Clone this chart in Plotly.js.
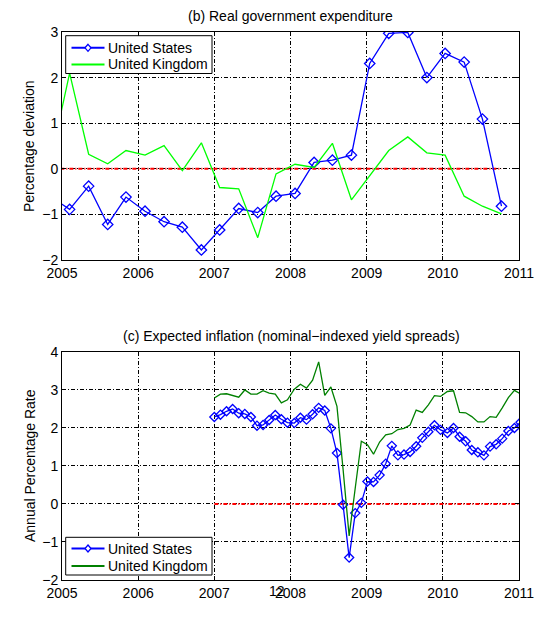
<!DOCTYPE html>
<html>
<head>
<meta charset="utf-8">
<script src="https://cdn.plot.ly/plotly-3.0.1.min.js"></script>
<style>html,body{margin:0;padding:0;background:#fff;}#chart{width:548px;height:619px;}</style>
</head>
<body>
<div id="chart"></div>
<script>
// ---- Panel (b): Real government expenditure (quarterly, decimal years) ----
var govDates = [2004.86, 2005.10, 2005.35, 2005.60, 2005.84, 2006.09, 2006.34, 2006.58, 2006.83,
  2007.07, 2007.32, 2007.57, 2007.81, 2008.06, 2008.31, 2008.55, 2008.80,
  2009.04, 2009.29, 2009.54, 2009.79, 2010.03, 2010.28, 2010.52, 2010.77];
var govUS = [-0.62, -0.89, -0.38, -1.22, -0.62, -0.93, -1.16, -1.28, -1.78,
  -1.34, -0.87, -0.96, -0.60, -0.54, 0.14, 0.19, 0.30,
  2.31, 2.97, 2.99, 2.00, 2.53, 2.34, 1.09, -0.82];
var govUK = [0.25, 2.10, 0.32, 0.11, 0.40, 0.30, 0.51, -0.04, 0.57,
  -0.41, -0.44, -1.51, -0.11, 0.10, 0.03, 0.56, -0.68,
  -0.15, 0.40, 0.70, 0.35, 0.30, -0.60, -0.82, -0.99];
var govZeroX = [2004.86, 2010.77];

// ---- Panel (c): Expected inflation (monthly, decimal years) ----
var inflDates = [2007.00, 2007.08, 2007.16, 2007.24, 2007.32, 2007.40, 2007.48, 2007.56, 2007.64, 2007.72,
  2007.80, 2007.88, 2007.96, 2008.05, 2008.13, 2008.21, 2008.29, 2008.37, 2008.45, 2008.53,
  2008.61, 2008.69, 2008.77, 2008.85, 2008.93, 2009.01, 2009.09, 2009.17, 2009.25, 2009.33,
  2009.41, 2009.49, 2009.57, 2009.65, 2009.73, 2009.81, 2009.89, 2009.97, 2010.06, 2010.14,
  2010.22, 2010.30, 2010.38, 2010.46, 2010.54, 2010.62, 2010.70, 2010.78, 2010.86, 2010.94,
  2011.02];
var inflUS = [2.29, 2.35, 2.44, 2.50, 2.39, 2.37, 2.29, 2.06, 2.08, 2.21,
  2.34, 2.23, 2.14, 2.13, 2.27, 2.22, 2.36, 2.53, 2.46, 1.99,
  1.34, -0.02, -1.41, -0.24, 0.03, 0.59, 0.58, 0.76, 1.06, 1.53,
  1.28, 1.30, 1.37, 1.52, 1.74, 1.90, 2.07, 1.95, 1.87, 2.00,
  1.77, 1.65, 1.42, 1.36, 1.28, 1.51, 1.57, 1.72, 1.92, 2.00,
  2.15];
var inflUK = [2.79, 2.89, 2.90, 2.86, 2.81, 3.00, 2.89, 2.89, 2.98, 2.92,
  2.89, 2.66, 2.74, 3.02, 3.15, 3.05, 3.26, 3.74, 2.86, 3.08,
  2.57, 0.92, -0.84, 0.42, 1.65, 1.56, 1.31, 1.63, 1.82, 1.85,
  1.96, 1.99, 2.08, 2.47, 2.41, 2.61, 2.85, 2.83, 2.96, 2.98,
  2.41, 2.40, 2.30, 2.16, 2.16, 2.30, 2.28, 2.53, 2.80, 2.99,
  2.90];
var inflZeroX = [2007.00, 2011.02];

var seriesNames = ['United States', 'United Kingdom'];
var xTicks = [2005, 2006, 2007, 2008, 2009, 2010, 2011];

var DASHDOT = '4px,2px,1px,2px';
var FONT = 'Liberation Sans, Arial, sans-serif';
var BLUE = '#0000ff', GREEN_B = '#00ff00', GREEN_C = '#008000';

var traces = [
  {x: govZeroX, y: [0, 0], xaxis: 'x', yaxis: 'y', mode: 'lines', showlegend: false,
   line: {color: '#ff0000', width: 2, dash: DASHDOT}, hoverinfo: 'skip'},
  {x: govDates, y: govUS, xaxis: 'x', yaxis: 'y', mode: 'lines+markers', name: seriesNames[0],
   showlegend: false, line: {color: BLUE, width: 1.3},
   marker: {symbol: 'diamond-open', size: 8, color: BLUE, line: {width: 1.3, color: BLUE}}},
  {x: govDates, y: govUK, xaxis: 'x', yaxis: 'y', mode: 'lines', name: seriesNames[1],
   showlegend: false, line: {color: GREEN_B, width: 1.3}},

  {x: inflZeroX, y: [0, 0], xaxis: 'x2', yaxis: 'y2', mode: 'lines', showlegend: false,
   line: {color: '#ff0000', width: 2, dash: DASHDOT}, hoverinfo: 'skip'},
  {x: inflDates, y: inflUS, xaxis: 'x2', yaxis: 'y2', mode: 'lines+markers', name: seriesNames[0],
   showlegend: false, line: {color: BLUE, width: 1.3},
   marker: {symbol: 'diamond-open', size: 7, color: BLUE, line: {width: 1.3, color: BLUE}}},
  {x: inflDates, y: inflUK, xaxis: 'x2', yaxis: 'y2', mode: 'lines', name: seriesNames[1],
   showlegend: false, line: {color: GREEN_C, width: 1.3}}
];

function xAxis(anchor) {
  return {
    anchor: anchor, domain: [0, 1], range: [2005, 2011], tickvals: xTicks,
    ticktext: xTicks.map(String),
    showgrid: true, gridcolor: '#000', gridwidth: 1, griddash: DASHDOT,
    showline: true, linecolor: '#000', linewidth: 1, mirror: 'allticks',
    ticks: 'inside', ticklen: 4, tickcolor: '#000', zeroline: false,
    tickfont: {family: FONT, size: 14, color: '#000'}
  };
}
function yAxis(anchor, domain, range) {
  var vals = [];
  for (var v = range[0]; v <= range[1]; v++) vals.push(v);
  return {
    anchor: anchor, domain: domain, range: range, tickvals: vals,
    showgrid: true, gridcolor: '#000', gridwidth: 1, griddash: DASHDOT,
    showline: true, linecolor: '#000', linewidth: 1, mirror: 'allticks',
    ticks: 'inside', ticklen: 4, tickcolor: '#000', zeroline: false,
    tickfont: {family: FONT, size: 14, color: '#000'}
  };
}

// pixel -> paper helpers (plot area: x 62..519, y 32..580)
var ML = 62, MT = 32, PW = 457, PH = 548;
function px(xp) { return (xp - ML) / PW; }
function py(yp) { return (MT + PH - yp) / PH; }

// Hand-drawn legend boxes (to match the compact MATLAB legend)
var shapes = [], annotations = [];
function addLegend(top, bottom, row1, row2, ukColor) {
  shapes.push({type: 'rect', xref: 'paper', yref: 'paper', x0: px(65.7), x1: px(212), y0: py(bottom), y1: py(top),
    line: {color: '#000', width: 1}, fillcolor: '#fff', layer: 'above'});
  shapes.push({type: 'line', xref: 'paper', yref: 'paper', x0: px(71.5), x1: px(104.5), y0: py(row1), y1: py(row1),
    line: {color: BLUE, width: 2}, layer: 'above'});
  shapes.push({type: 'path', xref: 'paper', yref: 'paper', xsizemode: 'pixel', ysizemode: 'pixel',
    xanchor: px(88), yanchor: py(row1), path: 'M0,3.5 L3,0 L0,-3.5 L-3,0 Z',
    line: {color: BLUE, width: 1.3}, fillcolor: '#fff', layer: 'above'});
  shapes.push({type: 'line', xref: 'paper', yref: 'paper', x0: px(71.5), x1: px(104.5), y0: py(row2), y1: py(row2),
    line: {color: ukColor, width: 2}, layer: 'above'});
  annotations.push({text: seriesNames[0], xref: 'paper', yref: 'paper', x: px(106), y: py(row1),
    xanchor: 'left', yanchor: 'middle', showarrow: false, font: {family: FONT, size: 14, color: '#000'}});
  annotations.push({text: seriesNames[1], xref: 'paper', yref: 'paper', x: px(106), y: py(row2),
    xanchor: 'left', yanchor: 'middle', showarrow: false, font: {family: FONT, size: 14, color: '#000'}});
}
addLegend(35.7, 73.5, 47.8, 64.5, GREEN_B);
addLegend(537.3, 575, 548.5, 566, GREEN_C);

annotations.push(
  {text: '(b) Real government expenditure', xref: 'paper', yref: 'paper', x: px(290), y: py(16),
   showarrow: false, xanchor: 'center', yanchor: 'middle', font: {family: FONT, size: 14, color: '#000'}},
  {text: '(c) Expected inflation (nominal\u2212indexed yield spreads)', xref: 'paper', yref: 'paper',
   x: px(291), y: py(336), showarrow: false, xanchor: 'center', yanchor: 'middle',
   font: {family: FONT, size: 14, color: '#000'}},
  {text: 'Percentage deviation', xref: 'paper', yref: 'paper', x: px(29), y: py(146),
   textangle: -90, showarrow: false, xanchor: 'center', yanchor: 'middle',
   font: {family: FONT, size: 14, color: '#000'}},
  {text: 'Annual Percentage Rate', xref: 'paper', yref: 'paper', x: px(30), y: py(466),
   textangle: -90, showarrow: false, xanchor: 'center', yanchor: 'middle',
   font: {family: FONT, size: 14, color: '#000'}},
  {text: '12', xref: 'paper', yref: 'paper', x: px(277), y: py(591),
   showarrow: false, xanchor: 'center', yanchor: 'middle',
   font: {family: FONT, size: 14, color: '#000'}}
);

var layout = {
  width: 548, height: 619,
  margin: {l: ML, r: 548 - ML - PW, t: MT, b: 619 - MT - PH},
  paper_bgcolor: '#fff', plot_bgcolor: '#fff',
  font: {family: FONT, size: 14, color: '#000'},
  xaxis: xAxis('y'),
  yaxis: yAxis('x', [0.5839, 1], [-2, 3]),
  xaxis2: xAxis('y2'),
  yaxis2: yAxis('x2', [0, 0.4161], [-2, 4]),
  shapes: shapes,
  annotations: annotations,
  showlegend: false
};

Plotly.newPlot('chart', traces, layout, {displayModeBar: false, staticPlot: true});
</script>
</body>
</html>
